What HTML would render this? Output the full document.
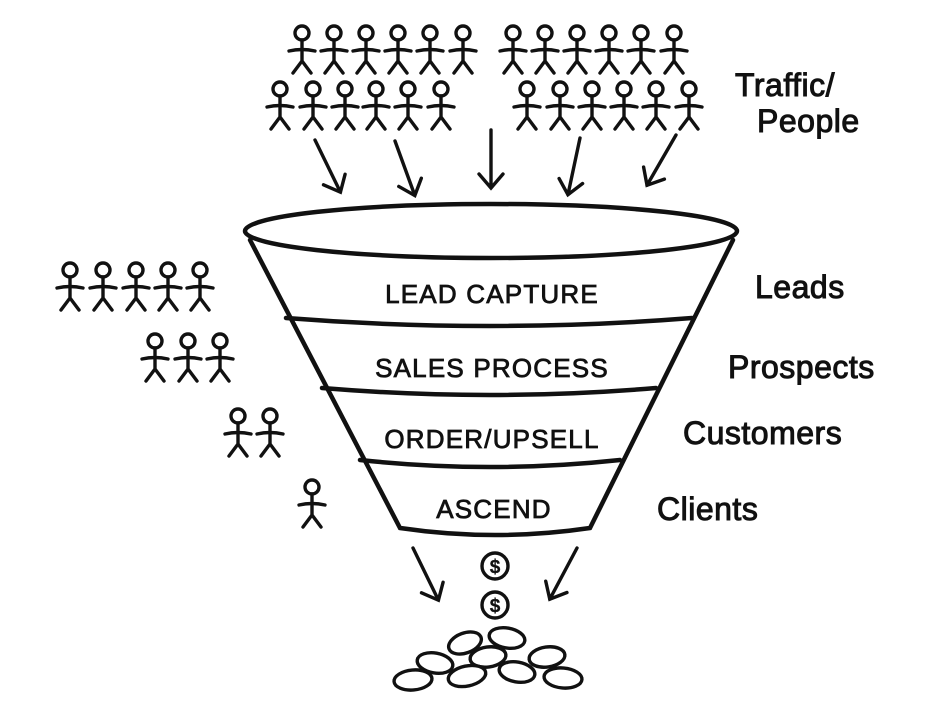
<!DOCTYPE html>
<html><head><meta charset="utf-8"><style>
html,body{margin:0;padding:0;background:#fff;}
svg{display:block}
text{font-family:"Liberation Sans",sans-serif;fill:#111;stroke:#111}
</style></head><body>
<svg width="938" height="720" viewBox="0 0 938 720" xmlns="http://www.w3.org/2000/svg">
<defs>
<g id="p" fill="none" stroke="#111" stroke-width="3.4" stroke-linecap="round">
<circle cx="0" cy="0" r="7"/>
<path d="M0 7 L0 28 M-13 18 Q0 15 13 18 M0 28 L-9 40 M0 28 L9 40"/>
</g>
<g id="a" fill="none" stroke="#111" stroke-width="3.4" stroke-linecap="round">
<path d="M0 0 L0 58 M-12 44 L0 58 L12 44"/>
</g>
</defs>
<use href="#p" x="302" y="33"/><use href="#p" x="334" y="33"/><use href="#p" x="366" y="33"/><use href="#p" x="398" y="33"/><use href="#p" x="430" y="33"/><use href="#p" x="463" y="33"/>
<use href="#p" x="513" y="33"/><use href="#p" x="545" y="33"/><use href="#p" x="577" y="33"/><use href="#p" x="609" y="33"/><use href="#p" x="641" y="33"/><use href="#p" x="674" y="33"/>
<use href="#p" x="280" y="89"/><use href="#p" x="313" y="89"/><use href="#p" x="345" y="89"/><use href="#p" x="376" y="89"/><use href="#p" x="408" y="89"/><use href="#p" x="441" y="89"/>
<use href="#p" x="527" y="89"/><use href="#p" x="560" y="89"/><use href="#p" x="592" y="89"/><use href="#p" x="624" y="89"/><use href="#p" x="656" y="89"/><use href="#p" x="689" y="89"/>
<use href="#p" x="70" y="270"/><use href="#p" x="103" y="270"/><use href="#p" x="136" y="270"/><use href="#p" x="168" y="270"/><use href="#p" x="200" y="270"/>
<use href="#p" x="155" y="341"/><use href="#p" x="188" y="341"/><use href="#p" x="220" y="341"/>
<use href="#p" x="238" y="416"/><use href="#p" x="270" y="416"/>
<use href="#p" x="312" y="487"/>
<use href="#a" transform="translate(315,140) rotate(-26)"/>
<use href="#a" transform="translate(395,141) rotate(-20)"/>
<use href="#a" transform="translate(491,130)"/>
<use href="#a" transform="translate(580,138) rotate(12)"/>
<use href="#a" transform="translate(676,135) rotate(30)"/>
<use href="#a" transform="translate(413,548) rotate(-26)"/>
<use href="#a" transform="translate(577,548) rotate(28)"/>
<g fill="none" stroke="#111" stroke-width="4.5" stroke-linecap="round">
<ellipse cx="491" cy="231" rx="246" ry="27"/>
<path d="M250 240 L400 528 Q495 542 590 528 L733 240"/>
<path d="M286 318 Q490 334 692 318"/>
<path d="M322 388 Q490 402 656 388"/>
<path d="M360 460 Q490 474 620 460"/>
</g>
<g font-size="26" text-anchor="middle" letter-spacing="1.2" stroke-width="0.8">
<text x="492" y="303">LEAD CAPTURE</text>
<text x="492" y="377">SALES PROCESS</text>
<text x="492" y="448">ORDER/UPSELL</text>
<text x="494" y="518">ASCEND</text>
</g>
<g font-size="32" stroke-width="1" letter-spacing="0.5">
<text x="735" y="96">Traffic/</text>
<text x="757" y="132">People</text>
<text x="755" y="298">Leads</text>
<text x="728" y="378">Prospects</text>
<text x="683" y="444">Customers</text>
<text x="657" y="520">Clients</text>
</g>
<g fill="none" stroke="#111" stroke-width="3.4">
<circle cx="495" cy="566" r="13"/><circle cx="495" cy="605" r="13"/>
</g>
<g font-size="19" text-anchor="middle" font-weight="bold" stroke-width="0.3"><text x="495" y="573">$</text><text x="495" y="612">$</text></g>
<g fill="#fff" stroke="#111" stroke-width="3.4">
<ellipse cx="465" cy="643" rx="17" ry="10" transform="rotate(-20 465 643)"/>
<ellipse cx="507" cy="638" rx="18" ry="10" transform="rotate(10 507 638)"/>
<ellipse cx="435" cy="663" rx="18" ry="10" transform="rotate(10 435 663)"/>
<ellipse cx="488" cy="657" rx="18" ry="10" transform="rotate(-8 488 657)"/>
<ellipse cx="547" cy="657" rx="18" ry="10" transform="rotate(-8 547 657)"/>
<ellipse cx="413" cy="680" rx="19" ry="10" transform="rotate(-5 413 680)"/>
<ellipse cx="467" cy="676" rx="19" ry="10" transform="rotate(-12 467 676)"/>
<ellipse cx="517" cy="672" rx="18" ry="10" transform="rotate(10 517 672)"/>
<ellipse cx="563" cy="678" rx="19" ry="10" transform="rotate(5 563 678)"/>
</g>
</svg>
</body></html>
